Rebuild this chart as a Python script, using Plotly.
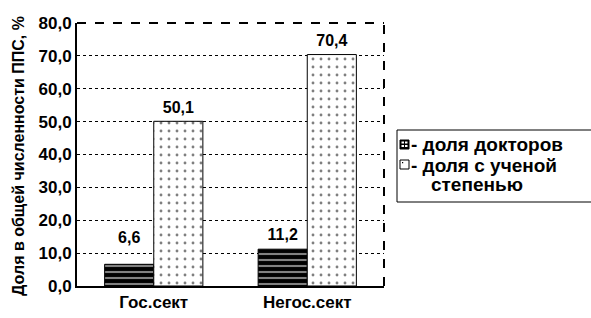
import plotly.graph_objects as go

categories = ["Гос.сект", "Негос.сект"]
doctors = [6.6, 11.2]
degree = [50.1, 70.4]
legend_lines = ["- доля докторов", "- доля с ученой", "степенью"]
y_title = "Доля в общей численности ППС, %"
tick_vals = [0, 10, 20, 30, 40, 50, 60, 70, 80]
tick_text = ["0,0", "10,0", "20,0", "30,0", "40,0", "50,0", "60,0", "70,0", "80,0"]

FONT = "Arial, Liberation Sans, sans-serif"
W, H = 591, 318
L, R, T, B = 77, 207, 23, 32
PW, PH = W - L - R, H - T - B
BARGAP = 0.36
# invisible marker sizes that set the gap between each value label and its bar
doc_label_pad = [26, 6]
deg_label_pad = [6, 6]


def px(x):
    return (x - L) / PW


def py(y):
    return (H - B - y) / PH


fig = go.Figure()
fig.add_trace(go.Bar(
    x=categories, y=doctors, name=legend_lines[0], showlegend=False,
    offsetgroup="doc", alignmentgroup="g",
    marker=dict(color="black", line=dict(color="black", width=1),
                pattern=dict(shape="-", fgcolor="white", bgcolor="black", size=6, solidity=0.35)),
    hoverinfo="skip",
))
fig.add_trace(go.Bar(
    x=categories, y=degree, name=legend_lines[1], showlegend=False,
    offsetgroup="deg", alignmentgroup="g",
    marker=dict(color="white", line=dict(color="black", width=1),
                pattern=dict(shape=".", fgcolor="black", bgcolor="white", size=8, solidity=0.1)),
    hoverinfo="skip",
))

# value labels aligned with the grouped bars
for vals, grp, pads in [(doctors, "doc", doc_label_pad), (degree, "deg", deg_label_pad)]:
    fig.add_trace(go.Scatter(
        x=categories, y=vals, mode="markers+text", offsetgroup=grp, alignmentgroup="g",
        marker=dict(size=pads, opacity=0), showlegend=False, hoverinfo="skip",
        text=["<b>%s</b>" % ("%.1f" % v).replace(".", ",") for v in vals],
        textposition="top center", textfont=dict(family=FONT, size=16, color="black"),
        cliponaxis=False,
    ))

fig.update_layout(
    width=W, height=H,
    margin=dict(l=L, r=R, t=T, b=B, autoexpand=False),
    paper_bgcolor="white", plot_bgcolor="white",
    barmode="group", bargap=BARGAP, bargroupgap=0,
    scattermode="group", scattergap=BARGAP,
    separators=", ",
    font=dict(family=FONT, color="black"),
    showlegend=False,
    xaxis=dict(
        showline=True, linecolor="black", linewidth=2,
        tickvals=categories, ticktext=["<b>%s</b>" % c for c in categories],
        tickfont=dict(family=FONT, size=17, color="black"),
        ticks="", showgrid=False,
    ),
    yaxis=dict(
        range=[0, 80], tickvals=tick_vals, ticktext=["<b>%s</b>" % t for t in tick_text],
        showline=True, linecolor="black", linewidth=2,
        showgrid=True, gridcolor="black", griddash="dot", gridwidth=1,
        tickfont=dict(family=FONT, size=17, color="black"),
        zeroline=False, ticks="",
    ),
)

# y-axis title
fig.add_annotation(xref="paper", yref="paper", x=px(18), y=py(156), xanchor="center", yanchor="middle",
                   textangle=-90, showarrow=False, text="<b>%s</b>" % y_title,
                   font=dict(family=FONT, size=16, color="black"))

# dashed top and right frame
fig.add_shape(type="line", xref="paper", yref="paper", x0=0, x1=1, y0=1, y1=1,
              line=dict(color="black", width=2, dash="dash"))
fig.add_shape(type="line", xref="paper", yref="paper", x0=1, x1=1, y0=0, y1=1,
              line=dict(color="black", width=2, dash="dash"))

# manual legend
fig.add_shape(type="rect", xref="paper", yref="paper", x0=px(397), x1=px(610), y0=py(130), y1=py(202),
              line=dict(color="black", width=1), fillcolor="white")
# symbol 1: dark patterned square
fig.add_shape(type="rect", xref="paper", yref="paper", x0=px(400), x1=px(409), y0=py(140), y1=py(149),
              line=dict(color="black", width=1), fillcolor="black")
for (a, b) in [(401.5, 141.5), (405, 141.5), (401.5, 145), (405, 145)]:
    fig.add_shape(type="rect", xref="paper", yref="paper", x0=px(a), x1=px(a + 2.5), y0=py(b), y1=py(b + 2),
                  line=dict(width=0), fillcolor="white")
# symbol 2: white dotted square
fig.add_shape(type="rect", xref="paper", yref="paper", x0=px(400), x1=px(409), y0=py(160), y1=py(169),
              line=dict(color="black", width=1), fillcolor="white")
fig.add_shape(type="rect", xref="paper", yref="paper", x0=px(402), x1=px(403.2), y0=py(162), y1=py(163.2),
              line=dict(width=0), fillcolor="black")

for t, xx, yy in zip(legend_lines, [409, 409, 429], [144, 165, 185]):
    fig.add_annotation(xref="paper", yref="paper", x=px(xx), y=py(yy), xanchor="left", yanchor="middle",
                       text="<b>%s</b>" % t, showarrow=False,
                       font=dict(family=FONT, size=19, color="black"))

fig.write_html("out.html", config={"displayModeBar": False},
               post_script="document.body.style.margin='0';document.body.style.padding='0';")
